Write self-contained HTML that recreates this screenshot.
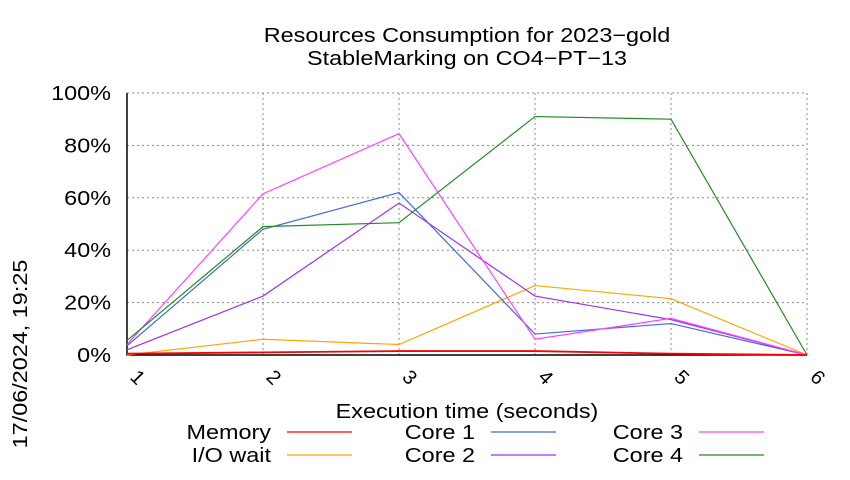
<!DOCTYPE html>
<html><head><meta charset="utf-8"><style>
body{margin:0;background:#fff}
svg{font-family:"Liberation Sans",sans-serif}
</style></head><body>
<svg id="c" width="850" height="475" xmlns="http://www.w3.org/2000/svg">
<text class="w" x="467" y="42" font-size="20" text-anchor="middle">Resources Consumption for 2023−gold</text>
<text class="w" x="467" y="65" font-size="20" text-anchor="middle">StableMarking on CO4−PT−13</text>
<text class="w" transform="translate(27,354) rotate(-90)" font-size="20" text-anchor="middle">17/06/2024, 19:25</text>
<text class="w" x="467" y="418" font-size="20" text-anchor="middle">Execution time (seconds)</text>
<g id="grid"></g><g id="series"></g><g id="legend"></g>
</svg>
<script>
const xTicks=[1,2,3,4,5,6];
const yTicks=[0,20,40,60,80,100];
const seriesNames=["Memory","I/O wait","Core 1","Core 2","Core 3","Core 4"];
const memory=[0.5,1,1.5,1.5,0.5,0];
const ioWait=[0,6,4,26.5,21.5,0];
const core1=[3.5,48,62,8,12,0];
const core2=[2,22.5,58,22.5,13.5,0];
const core3=[4,61.5,84.5,6,14,0];
const core4=[5.5,49,50.5,91,90,0];
const colors=["#ff0000","#ffa500","#4169e1","#9b30ff","#ff40ff","#228b22"];
const NS="http://www.w3.org/2000/svg";
const X0=127,X1=807,Y0=355,Y1=93;
function sx(v){return X0+(v-1)/(6-1)*(X1-X0);}
function sy(v){return Y0-v/100*(Y0-Y1);}
function mk(t,a,p){const e=document.createElementNS(NS,t);for(const k in a)e.setAttribute(k,a[k]);p.appendChild(e);return e;}
const g=document.getElementById('grid');
yTicks.forEach(v=>{
 const l=mk('line',{x1:X0,x2:X1,y1:sy(v),y2:sy(v),stroke:'#888','stroke-dasharray':'2,3','stroke-width':1},g);
 
 
 const t=mk('text',{x:X0-16,y:sy(v)+7,'font-size':20,'text-anchor':'end','class':'w'},g);
 t.textContent=v+'%';
 
 
});
xTicks.forEach(v=>{
 const l=mk('line',{x1:sx(v),x2:sx(v),y1:Y1,y2:Y0,stroke:'#888','stroke-dasharray':'2,3','stroke-width':1},g);
 
 
 const t=mk('text',{transform:`translate(${sx(v)+6},${Y0+27}) rotate(45)`,'font-size':20,'text-anchor':'middle'},g);
 t.textContent=v;
 
 
});
const ax=mk('path',{d:`M${X0},${Y1}V${Y0}H${X1}`,fill:'none',stroke:'#000','stroke-width':1.5},g);


const s=document.getElementById('series');
const all=[memory,ioWait,core1,core2,core3,core4];
const order=[1,2,3,4,5,0];
order.forEach(i=>{
 const d=all[i].map((v,j)=>(j?'L':'M')+sx(xTicks[j])+','+sy(v)).join('');
 const p=mk('path',{d:d,fill:'none',stroke:colors[i],'stroke-width':i==0?1.8:1.2},s);
 
 
});
const lg=document.getElementById('legend');
const lpos=[[271,432],[271,455],[475,432],[475,455],[683,432],[683,455]];
[0,1,2,3,4,5].forEach(i=>{
 const [x,y]=lpos[i];
 const t=mk('text',{x:x,y:y+7,'font-size':20,'text-anchor':'end','class':'w'},lg);
 t.textContent=seriesNames[i];
 
 
 const l=mk('line',{x1:x+16,x2:x+81,y1:y,y2:y,stroke:colors[i],'stroke-width':1.2},lg);
 
 
});
document.querySelectorAll('text.w').forEach(t=>{
 const L=t.getComputedTextLength();
 t.setAttribute('textLength',(L*1.17).toFixed(1));
 t.setAttribute('lengthAdjust','spacingAndGlyphs');
});
</script>
</body></html>
